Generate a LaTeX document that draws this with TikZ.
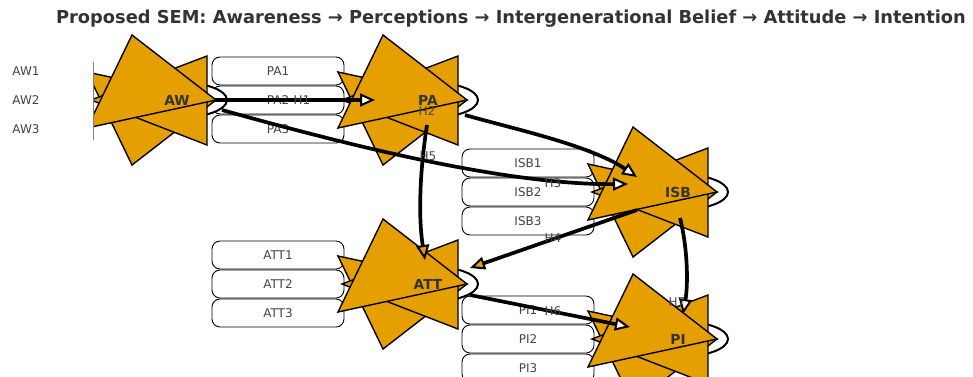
\documentclass[tikz,border=0pt]{standalone}
\usepackage{fontspec}
\setmainfont{DejaVu Sans}
\usetikzlibrary{calc, shapes, positioning, arrows.meta}
\definecolor{semorange}{HTML}{E69F00}
\definecolor{semtext}{HTML}{444444}
\definecolor{semtitle}{HTML}{333333}
\tikzstyle{latent}=[ellipse, draw, line width=2pt, fill=white, minimum width=100pt, minimum height=36pt, inner sep=0pt]
\tikzstyle{latlab}=[font=\bfseries\fontsize{13.8}{15}\selectfont, text=semtitle, inner sep=0pt]
\tikzstyle{indic}=[draw, rounded corners=8pt, fill=white, line width=0.9pt, minimum width=132pt, minimum height=28pt, inner sep=0pt, font=\fontsize{12}{14}\selectfont, text=semtext]
\tikzstyle{hlab}=[font=\fontsize{12}{14}\selectfont, text=semtext, inner sep=0pt]
\tikzstyle{hyp}=[line width=3.7pt, -{Triangle[length=15pt, width=13pt, line width=2pt, fill=white]}]
\tikzstyle{blob}=[fill=semorange, draw=black, line width=1.4pt]
% the three orange heads round a latent node
\newcommand{\semblobs}[1]{%
  \begin{scope}[shift={(#1)}]
  \filldraw[blob] (-45,65) -- (39,0) -- (-90,-28) -- cycle;
  \filldraw[blob] (30,-44) -- (30,45) -- (-86,0) -- cycle;
  \filldraw[blob] (-45,-65) -- (39,0) -- (-90,28) -- cycle;
  \end{scope}}

\begin{document}
\begin{tikzpicture}[x=1pt, y=-1pt]
\useasboundingbox (0,0) rectangle (973,376);
\node[font=\bfseries\fontsize{17.8}{20}\selectfont, text=semtitle] (title) at (511,19) {Proposed SEM: Awareness → Perceptions → Intergenerational Belief → Attitude → Intention};

% indicators
\node[indic] (PA1) at (278,71) {PA1}; \node[indic] (PA2) at (278,100) {PA2}; \node[indic] (PA3) at (278,129) {PA3};
\node[indic] (ISB1) at (528,163) {ISB1}; \node[indic] (ISB2) at (528,192) {ISB2}; \node[indic] (ISB3) at (528,221) {ISB3};
\node[indic] (ATT1) at (278,255) {ATT1}; \node[indic] (ATT2) at (278,284) {ATT2}; \node[indic] (ATT3) at (278,313) {ATT3};
\node[indic] (PI1) at (528,310) {PI1}; \node[indic] (PI2) at (528,339) {PI2}; \node[indic] (PI3) at (528,368) {PI3};

% latent variables
\node[latent] (AW) at (177,100){}; \node[latent] (PA) at (428,100){};
\node[latent] (ISB) at (678,192){}; \node[latent] (ATT) at (428,284){};
\node[latent] (PI) at (678,339){};
\semblobs{AW} \semblobs{PA} \semblobs{ISB} \semblobs{ATT} \semblobs{PI}

\fill[white] (0,57) rectangle (93,143);
\draw[gray, line width=0.8pt] (93,62) -- (93,140);
\node[hlab] (AW1) at (26,71) {AW1}; \node[hlab] (AW2) at (26,100) {AW2}; \node[hlab] (AW3) at (26,129) {AW3};

% structural paths
\draw[hyp] ($(AW)+(37,0)$) -- ($(PA)+(-53,0)$);
\draw[hyp] ($(PA)+(37,15)$) .. controls (510,128) and (590,145) .. ($(ISB)+(-41,-15)$);
\draw[hyp] ($(AW)+(45,10)$) .. controls (330,140) and (500,185) .. ($(ISB)+(-50,-8)$);
\draw[hyp, -{Triangle[length=15pt, width=13pt, line width=2pt, fill=semorange]}] ($(ISB)+(-41,18)$) -- ($(ATT)+(42,-16)$);
\draw[hyp, -{Triangle[length=15pt, width=13pt, line width=2pt, fill=semorange]}] ($(PA)+(-1,25)$) .. controls (420,170) and (418,215) .. ($(ATT)+(-3,-24)$);
\draw[hyp] ($(ATT)+(42,11)$) -- ($(PI)+(-48,-12)$);
\draw[hyp] ($(ISB)+(2,26)$) .. controls (688,250) and (688,285) .. ($(PI)+(5,-25)$);

\node[latlab] (AWl) at (AW) {AW}; \node[latlab] (PAl) at (PA) {PA};
\node[latlab] (ISBl) at (ISB) {ISB}; \node[latlab] (ATTl) at (ATT) {ATT};
\node[latlab] (PIl) at (PI) {PI};

\node[hlab] (h1) at (302,100) {H1}; \node[hlab] (h2) at (427,111) {H2};
\node[hlab] (h3) at (553,183) {H3}; \node[hlab] (h4) at (553,238) {H4};
\node[hlab] (h5) at (428,156) {H5}; \node[hlab] (h6) at (553,311) {H6};
\node[hlab] (h7) at (677,302) {H7};
\end{tikzpicture}
\end{document}
